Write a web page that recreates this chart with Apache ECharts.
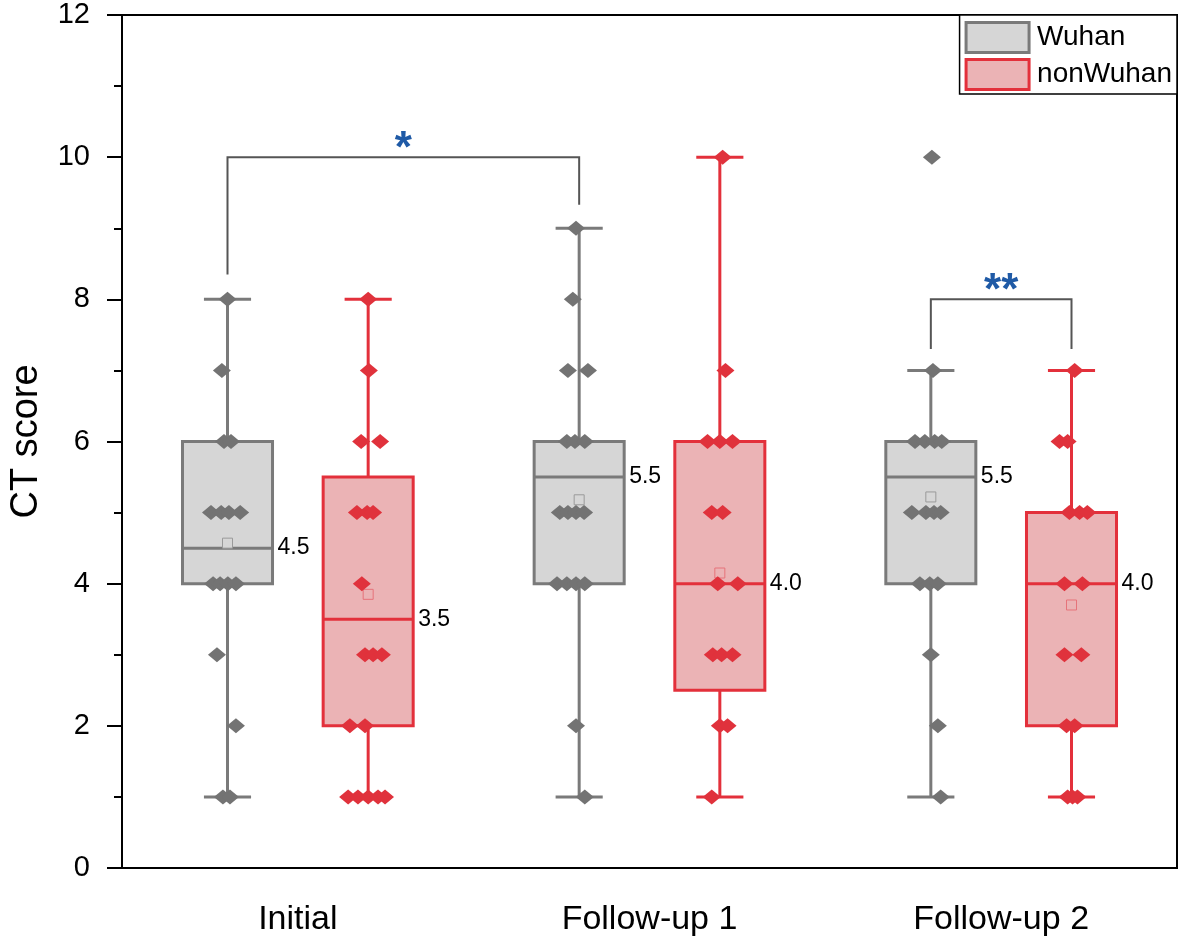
<!DOCTYPE html>
<html>
<head>
<meta charset="utf-8">
<title>CT score</title>
<script src="https://cdn.jsdelivr.net/npm/echarts@6.0.0/dist/echarts.min.js"></script>
<style>
    html, body { margin: 0; padding: 0; background: #fff; }
    #chart { width: 1181px; height: 943px; }
</style>
</head>
<body>
<div id="chart"></div>
<script>
    const categories = ['Initial', 'Follow-up 1', 'Follow-up 2'];
    const groupNames = ['Wuhan', 'nonWuhan'];

    // [min, Q1, median, Q3, max] per category
    const wuhanBox = [[1, 4, 4.5, 6, 8], [1, 4, 5.5, 6, 9], [1, 4, 5.5, 6, 7]];
    const nonWuhanBox = [[1, 2, 3.5, 5.5, 8], [1, 2.5, 4, 6, 10], [1, 2, 4, 5, 7]];
    const wuhanMean = [4.57, 5.18, 5.22];
    const nonWuhanMean = [3.85, 4.15, 3.70];

    // individual scores as [jitter, score]
    const wuhanInitial = [[0, 8], [-0.016, 7], [-0.01, 6], [0.01, 6],
        [-0.047, 5], [-0.018, 5], [0.004, 5], [0.036, 5],
        [-0.041, 4], [-0.021, 4], [0.001, 4], [0.024, 4],
        [-0.03, 3], [0.024, 2], [-0.013, 1], [0.007, 1]];
    const wuhanFollow1 = [[-0.009, 9], [-0.018, 8], [-0.032, 7], [0.025, 7],
        [-0.035, 6], [-0.012, 6], [0.016, 6],
        [-0.055, 5], [-0.032, 5], [-0.009, 5], [0.014, 5],
        [-0.063, 4], [-0.035, 4], [-0.009, 4], [0.016, 4],
        [-0.009, 2], [0.016, 1]];
    const wuhanFollow2 = [[0.003, 10], [0.006, 7],
        [-0.045, 6], [-0.017, 6], [0.011, 6], [0.031, 6],
        [-0.054, 5], [-0.014, 5], [0.009, 5], [0.028, 5],
        [-0.031, 4], [-0.003, 4], [0.02, 4],
        [0, 3], [0.02, 2], [0.028, 1]];
    const nonWuhanInitial = [[0, 8], [0.002, 7], [-0.02, 6], [0.034, 6],
        [-0.032, 5], [-0.003, 5], [0.014, 5], [-0.018, 4],
        [-0.009, 3], [0.014, 3], [0.039, 3], [-0.052, 2], [-0.009, 2],
        [-0.057, 1], [-0.029, 1], [0, 1], [0.028, 1], [0.048, 1]];
    const nonWuhanFollow1 = [[0.008, 10], [0.016, 7], [-0.035, 6], [0, 6], [0.036, 6],
        [-0.023, 5], [0.008, 5], [-0.006, 4], [0.051, 4],
        [-0.02, 3], [0.005, 3], [0.036, 3], [0, 2], [0.022, 2], [-0.023, 1]];
    const nonWuhanFollow2 = [[0.009, 7], [-0.034, 6], [-0.011, 6],
        [-0.006, 5], [0.023, 5], [0.045, 5], [-0.02, 4], [0.031, 4],
        [-0.02, 3], [0.028, 3], [-0.014, 2], [0.009, 2],
        [-0.011, 1], [0.003, 1], [0.017, 1]];

    // significance brackets: [category, group] at each end
    const bracketFrom = [[0, 0], [2, 0]];
    const bracketTo = [[1, 0], [2, 1]];
    const bracketTop = [10, 8];
    const bracketLegs = [[8.35, 9.33], [7.3, 7.3]];
    const bracketMarks = ['*', '**'];

    const FONT = '"Liberation Sans", Arial, sans-serif';
    const GROUP_OFFSET = [-0.2, 0.2];
    const BOX_W = 0.256;
    const CAP_W = 0.134;
    const colors = [
        {stroke: '#7a7a7a', fill: '#d6d6d6', point: '#737373', mean: '#9a9a9a'},
        {stroke: '#e3303b', fill: '#ebb3b5', point: '#e0323c', mean: '#e6737a'}
    ];

    function groupX(cat, g) {
        return cat + 0.5 + GROUP_OFFSET[g];
    }

    function boxSeries(g, stats, means) {
        const c = colors[g];
        return {
            name: groupNames[g],
            type: 'custom',
            xAxisIndex: 1,
            yAxisIndex: 0,
            z: 2,
            itemStyle: {color: c.fill, borderColor: c.stroke, borderWidth: 3},
            encode: {x: 0, y: [1, 5]},
            data: stats.map((s, i) => [groupX(i, g)].concat(s, [means[i]])),
            renderItem: function (params, api) {
                const x = api.value(0);
                const pt = v => api.coord([x, v]);
                const pMin = pt(api.value(1)), pQ1 = pt(api.value(2)), pMed = pt(api.value(3));
                const pQ3 = pt(api.value(4)), pMax = pt(api.value(5)), pMean = pt(api.value(6));
                const bw = api.size([BOX_W, 0])[0];
                const cw = api.size([CAP_W, 0])[0];
                const cx = pMed[0];
                const line = (x1, y1, x2, y2) => ({
                    type: 'line', shape: {x1: x1, y1: y1, x2: x2, y2: y2},
                    style: {stroke: c.stroke, lineWidth: 3}
                });
                return {
                    type: 'group',
                    children: [
                        line(cx, pMin[1], cx, pQ1[1]),
                        line(cx, pQ3[1], cx, pMax[1]),
                        line(cx - cw / 2, pMin[1], cx + cw / 2, pMin[1]),
                        line(cx - cw / 2, pMax[1], cx + cw / 2, pMax[1]),
                        {
                            type: 'rect',
                            shape: {x: cx - bw / 2, y: pQ3[1], width: bw, height: pQ1[1] - pQ3[1]},
                            style: {fill: c.fill, stroke: c.stroke, lineWidth: 3}
                        },
                        line(cx - bw / 2, pMed[1], cx + bw / 2, pMed[1]),
                        {
                            type: 'rect',
                            shape: {x: cx - 5, y: pMean[1] - 5, width: 10, height: 10},
                            style: {fill: c.fill, stroke: c.mean, lineWidth: 1}
                        },
                        {
                            type: 'text',
                            x: cx + bw / 2 + 5,
                            y: pMed[1],
                            style: {
                                text: api.value(3).toFixed(1), fontSize: 23, fontFamily: FONT,
                                fill: '#000', align: 'left', verticalAlign: 'middle'
                            }
                        }
                    ]
                };
            }
        };
    }

    function pointSeries(g, groups) {
        const data = [];
        groups.forEach((pts, i) => {
            pts.forEach(p => data.push([groupX(i, g) + p[0], p[1]]));
        });
        return {
            name: groupNames[g] + ' scores',
            type: 'scatter',
            xAxisIndex: 1,
            yAxisIndex: 0,
            z: 3,
            symbol: 'diamond',
            symbolSize: [18, 15],
            itemStyle: {color: colors[g].point, opacity: 1},
            data: data
        };
    }

    const bracketData = bracketFrom.map((f, i) => [
        groupX(f[0], f[1]), groupX(bracketTo[i][0], bracketTo[i][1]),
        bracketTop[i], bracketLegs[i][0], bracketLegs[i][1]
    ]);

    const bracketSeries = {
        name: 'significance',
        type: 'custom',
        xAxisIndex: 1,
        yAxisIndex: 0,
        z: 4,
        encode: {x: [0, 1], y: 2},
        data: bracketData,
        renderItem: function (params, api) {
            const x1 = api.value(0), x2 = api.value(1), top = api.value(2);
            const a = api.coord([x1, api.value(3)]);
            const b = api.coord([x1, top]);
            const c = api.coord([x2, top]);
            const d = api.coord([x2, api.value(4)]);
            return {
                type: 'group',
                children: [
                    {
                        type: 'polyline',
                        shape: {points: [a, b, c, d]},
                        style: {fill: 'none', stroke: '#555', lineWidth: 2}
                    },
                    {
                        type: 'text',
                        x: (b[0] + c[0]) / 2,
                        y: b[1] - 7,
                        style: {
                            text: bracketMarks[params.dataIndex], fontSize: 44, fontWeight: 'bold',
                            fontFamily: FONT, fill: '#1f5aa6', align: 'center', verticalAlign: 'middle'
                        }
                    }
                ]
            };
        }
    };

    const myChart = echarts.init(document.getElementById('chart'));
    const option = {
        animation: false,
        backgroundColor: '#fff',
        textStyle: {fontFamily: FONT},
        grid: {
            left: 122,
            right: 4,
            top: 15,
            bottom: 75,
            show: true,
            borderColor: '#000',
            borderWidth: 2,
            backgroundColor: 'transparent'
        },
        legend: {
            orient: 'vertical',
            right: 4,
            top: 15,
            padding: [6, 5, 3, 5],
            itemGap: 4,
            itemWidth: 63,
            itemHeight: 30,
            backgroundColor: '#fff',
            borderColor: '#000',
            borderWidth: 1.5,
            borderRadius: 0,
            textStyle: {fontSize: 28, color: '#000', fontFamily: FONT, padding: [0, 0, 0, 3]},
            data: [
                {name: 'Wuhan', icon: 'rect',
                    itemStyle: {color: colors[0].fill, borderColor: colors[0].stroke, borderWidth: 3}},
                {name: 'nonWuhan', icon: 'rect',
                    itemStyle: {color: colors[1].fill, borderColor: colors[1].stroke, borderWidth: 3}}
            ]
        },
        xAxis: [{
            type: 'category',
            data: categories,
            boundaryGap: true,
            axisLine: {lineStyle: {color: '#000', width: 2}},
            axisTick: {alignWithLabel: true, length: 15, lineStyle: {color: '#000', width: 2}},
            axisLabel: {fontSize: 34, color: '#000', margin: 35, fontFamily: FONT},
            splitLine: {show: false}
        }, {
            type: 'value',
            min: 0,
            max: 3,
            show: false
        }],
        yAxis: {
            type: 'value',
            min: 0,
            max: 12,
            interval: 2,
            name: 'CT score',
            nameLocation: 'middle',
            nameGap: 76,
            nameTextStyle: {fontSize: 38, color: '#000', fontFamily: FONT},
            axisLine: {show: true, lineStyle: {color: '#000', width: 2}},
            axisTick: {show: true, length: 15, lineStyle: {color: '#000', width: 2}},
            minorTick: {show: true, splitNumber: 2, length: 8, lineStyle: {color: '#000', width: 2}},
            axisLabel: {fontSize: 29, color: '#000', margin: 32, fontFamily: FONT},
            splitLine: {show: false},
            minorSplitLine: {show: false}
        },
        series: [
            boxSeries(0, wuhanBox, wuhanMean),
            boxSeries(1, nonWuhanBox, nonWuhanMean),
            pointSeries(0, [wuhanInitial, wuhanFollow1, wuhanFollow2]),
            pointSeries(1, [nonWuhanInitial, nonWuhanFollow1, nonWuhanFollow2]),
            bracketSeries
        ]
    };
    myChart.setOption(option, true);
    window.addEventListener('resize', () => {
        myChart.resize();
    });
</script>
</body>
</html>
